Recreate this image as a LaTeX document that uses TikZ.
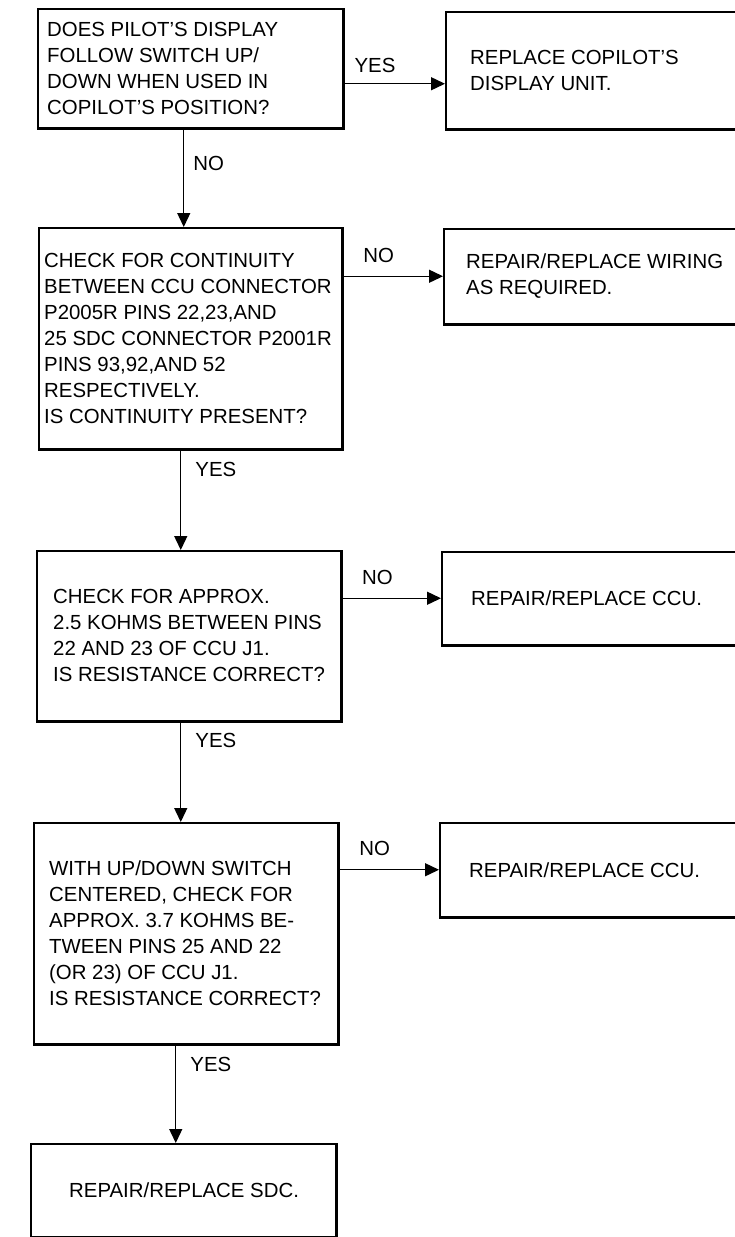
\documentclass[tikz,border=0pt]{standalone}
\usepackage{fontspec}
\setmainfont{Liberation Sans}
\usetikzlibrary{positioning,arrows.meta}

\begin{document}
\begin{tikzpicture}[
  x=1pt, y=-1pt,
  font=\fontsize{20.4}{26}\selectfont,
  box/.style={draw, line width=1.5pt, anchor=north west, inner sep=0pt},
  edge/.style={line width=2.8pt},
  txt/.style={align=left, inner sep=0pt},
  lbl/.style={inner sep=0pt},
  arr/.style={-{Triangle[length=14pt,width=13pt]}, line width=1.4pt}
]
  \path[use as bounding box, clip] (0,0) rectangle (735,1237);

  % left column: checks
  \node[box, minimum width=305pt, minimum height=119pt] (q1) at (37,8) {};
  \node[box, minimum width=303pt, minimum height=221pt] (q2) at (38,227) {};
  \node[box, minimum width=304pt, minimum height=170pt] (q3) at (36,550) {};
  \node[box, minimum width=304pt, minimum height=221pt] (q4) at (33,822) {};
  \node[box, minimum width=305pt, minimum height=93pt] (q5) at (30,1143) {};

  % right column: actions
  \node[box, minimum width=310pt, minimum height=117pt] (r1) at (445,11) {};
  \node[box, minimum width=310pt, minimum height=95pt] (r2) at (443,228) {};
  \node[box, minimum width=310pt, minimum height=93pt] (r3) at (441,551) {};
  \node[box, minimum width=310pt, minimum height=94pt] (r4) at (439,822) {};

  \foreach \b in {q1,q2,q3,q4,q5,r1,r2,r3,r4}
    \draw[edge] (\b.north east) -- (\b.south east) -- (\b.south west);

  \node[txt, right=10pt of q1.west] (q1t) {DOES PILOT'S DISPLAY\\FOLLOW SWITCH UP/\\DOWN WHEN USED IN\\COPILOT'S POSITION?};
  \node[txt, right=6pt of q2.west] (q2t) {CHECK FOR CONTINUITY\\BETWEEN CCU CONNECTOR\\P2005R PINS 22,23,AND\\25 SDC CONNECTOR P2001R\\PINS 93,92,AND 52\\RESPECTIVELY.\\IS CONTINUITY PRESENT?};
  \node[txt, right=17pt of q3.west] (q3t) {CHECK FOR APPROX.\\2.5 KOHMS BETWEEN PINS\\22 AND 23 OF CCU J1.\\IS RESISTANCE CORRECT?};
  \node[txt, right=16pt of q4.west] (q4t) {WITH UP/DOWN SWITCH\\CENTERED, CHECK FOR\\APPROX. 3.7 KOHMS BE-\\TWEEN PINS 25 AND 22\\(OR 23) OF CCU J1.\\IS RESISTANCE CORRECT?};
  \node[txt, right=39pt of q5.west] (q5t) {REPAIR/REPLACE SDC.};

  \node[txt, right=25pt of r1.west] (r1t) {REPLACE COPILOT'S\\DISPLAY UNIT.};
  \node[txt, right=23pt of r2.west] (r2t) {REPAIR/REPLACE WIRING\\AS REQUIRED.};
  \node[txt, right=30pt of r3.west] (r3t) {REPAIR/REPLACE CCU.};
  \node[txt, right=30pt of r4.west] (r4t) {REPAIR/REPLACE CCU.};

  % yes/no branches to the right
  \coordinate (h1) at ([yshift=-13.5pt]r1.west);
  \draw[arr] (h1 -| q1.east) -- (h1) node[lbl, pos=0.31, above=10pt] {YES};
  \draw[arr] (r2.west -| q2.east) -- (r2.west) node[lbl, pos=0.36, above=13pt] {NO};
  \draw[arr] (r3.west -| q3.east) -- (r3.west) node[lbl, pos=0.36, above=13pt] {NO};
  \draw[arr] (r4.west -| q4.east) -- (r4.west) node[lbl, pos=0.36, above=13pt] {NO};

  % down the left column
  \coordinate (v1) at ([xshift=-6.5pt]q1.south);
  \coordinate (v2) at ([xshift=-9.5pt]q2.south);
  \coordinate (v3) at ([xshift=-8pt]q3.south);
  \coordinate (v4) at ([xshift=-10pt]q4.south);
  \draw[arr] (v1) -- (v1 |- q2.north) node[lbl, pos=0.36, right=9pt] {NO};
  \draw[arr] (v2) -- (v2 |- q3.north) node[lbl, pos=0.2, right=14pt] {YES};
  \draw[arr] (v3) -- (v3 |- q4.north) node[lbl, pos=0.19, right=14pt] {YES};
  \draw[arr] (v4) -- (v4 |- q5.north) node[lbl, pos=0.2, right=14pt] {YES};
\end{tikzpicture}
\end{document}
